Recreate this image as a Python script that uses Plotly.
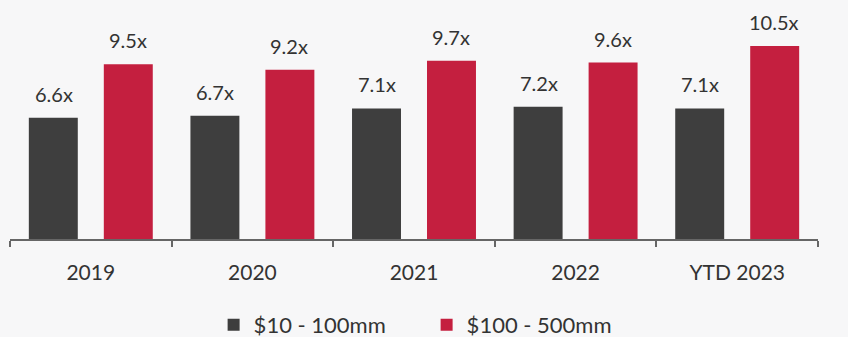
import plotly.graph_objects as go

# Valuation multiples by year and deal size
categories = ["2019", "2020", "2021", "2022", "YTD 2023"]
small_deals = [6.6, 6.7, 7.1, 7.2, 7.1]     # $10 - 100mm
mid_deals = [9.5, 9.2, 9.7, 9.6, 10.5]      # $100 - 500mm
series_names = ["$10 - 100mm", "$100 - 500mm"]

DARK = "#3e3e3e"
RED = "#c41f3f"
TEXT = "#333333"
FONT = "Lato"

fig = go.Figure()
fig.add_trace(go.Bar(x=categories, y=small_deals, name=series_names[0],
                     marker=dict(color=DARK, line=dict(width=0))))
fig.add_trace(go.Bar(x=categories, y=mid_deals, name=series_names[1],
                     marker=dict(color=RED, line=dict(width=0))))

# value labels above each bar (category axis positions are indices)
for vals, shift in ((small_deals, -37), (mid_deals, 37)):
    for i, v in enumerate(vals):
        fig.add_annotation(x=i, y=v, text=f"{v:.1f}x", showarrow=False,
                           xshift=shift, yshift=10, yanchor="bottom",
                           font=dict(family=FONT, size=20, color=TEXT))

fig.update_layout(
    width=848, height=337,
    margin=dict(l=10, r=30, t=0, b=98, autoexpand=False),
    paper_bgcolor="#f7f7f8",
    plot_bgcolor="rgba(0,0,0,0)",
    barmode="group",
    bargap=0.072,
    bargroupgap=0.347,
    showlegend=True,
    legend=dict(orientation="h", x=0.252, xanchor="left", y=-0.36, yanchor="middle",
                font=dict(family=FONT, size=22, color=TEXT),
                entrywidth=168, entrywidthmode="pixels",
                itemsizing="constant", traceorder="normal"),
    font=dict(family=FONT, color=TEXT),
)
fig.update_xaxes(type="category", range=[-0.5, len(categories) - 0.5],
                 automargin=False,
                 showline=True, linecolor="#666666", linewidth=1.5,
                 ticks="outside", tickson="boundaries", ticklen=6,
                 tickcolor="#666666", tickwidth=1.5, tickangle=0,
                 ticklabelstandoff=14,
                 tickfont=dict(family=FONT, size=21, color=TEXT),
                 showgrid=False, zeroline=False, fixedrange=True)
fig.update_yaxes(range=[0, 13], visible=False, showgrid=False, zeroline=False)

fig.write_html("out.html")
